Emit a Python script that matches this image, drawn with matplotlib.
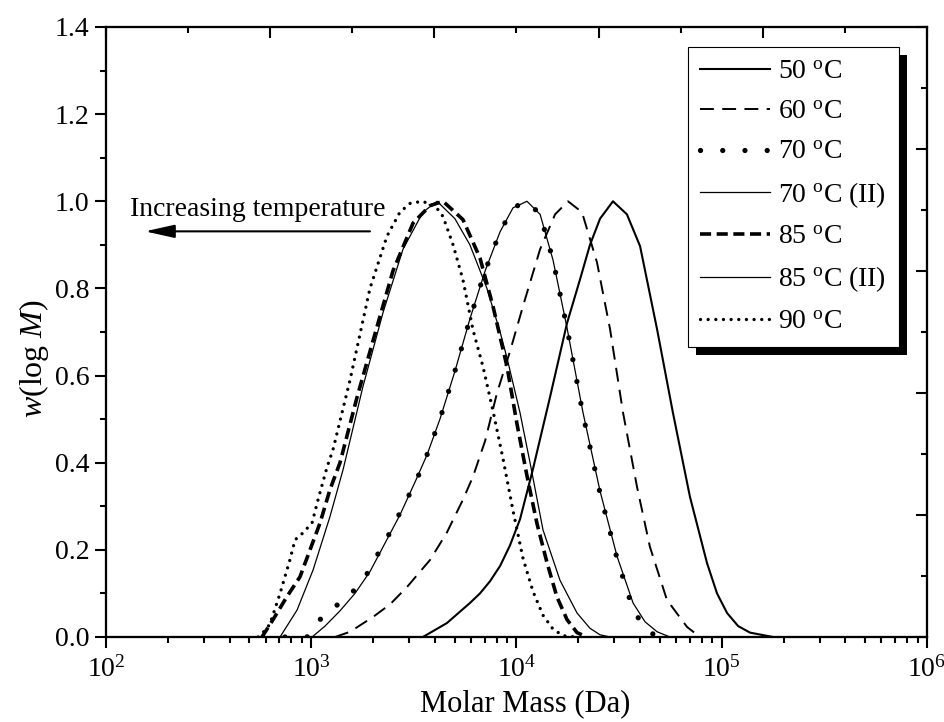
import matplotlib
matplotlib.use("Agg")
import matplotlib.pyplot as plt
from matplotlib.ticker import LogLocator, MultipleLocator, FormatStrFormatter, NullFormatter
from matplotlib.patches import Rectangle

plt.rcParams["font.family"] = "Liberation Serif"
plt.rcParams["mathtext.fontset"] = "custom"
plt.rcParams["mathtext.rm"] = "Liberation Serif"
plt.rcParams["mathtext.it"] = "Liberation Serif:italic"
plt.rcParams["lines.scale_dashes"] = False

# Molecular weight distributions: log10(M / Da) and normalised w(log M)
logM_50 = [3.544, 3.661, 3.773, 3.822, 3.871, 3.920, 3.968, 4.017, 4.080, 4.163,
           4.246, 4.309, 4.358, 4.407, 4.470, 4.538, 4.602, 4.685, 4.762, 4.845,
           4.928, 4.977, 5.026, 5.080, 5.138, 5.250]
w_50 = [0.0, 0.032, 0.078, 0.10, 0.128, 0.163, 0.21, 0.27, 0.385, 0.55,
        0.72, 0.82, 0.90, 0.96, 1.0, 0.97, 0.897, 0.706, 0.515, 0.322,
        0.17, 0.10, 0.055, 0.025, 0.01, 0.0]

logM_60 = [3.116, 3.189, 3.301, 3.384, 3.467, 3.579, 3.661, 3.739, 3.788, 3.847,
           3.905, 3.968, 4.032, 4.115, 4.188, 4.251, 4.319, 4.392, 4.456, 4.519,
           4.587, 4.650, 4.733, 4.831, 4.894]
w_60 = [0.0, 0.012, 0.046, 0.075, 0.115, 0.177, 0.24, 0.315, 0.368, 0.45,
        0.56, 0.655, 0.76, 0.89, 0.97, 1.0, 0.975, 0.86, 0.706, 0.515,
        0.345, 0.207, 0.085, 0.023, 0.0]

logM_70 = [2.872, 2.945, 2.979, 3.004, 3.043, 3.106, 3.155, 3.223, 3.286, 3.335,
           3.384, 3.432, 3.481, 3.520, 3.564, 3.627, 3.700, 3.773, 3.847, 3.920,
           3.983, 4.051, 4.115, 4.178, 4.246, 4.324, 4.407, 4.490, 4.553, 4.602,
           4.650, 4.699]
w_70 = [0.0, 0.0, 0.0, 0.01, 0.04, 0.07, 0.078, 0.115, 0.154, 0.20,
        0.24, 0.285, 0.33, 0.368, 0.418, 0.50, 0.61, 0.73, 0.84, 0.93,
        0.985, 1.0, 0.97, 0.865, 0.71, 0.51, 0.33, 0.18, 0.085, 0.035,
        0.01, 0.0]

logM_70b = [3.004, 3.067, 3.140, 3.213, 3.286, 3.359, 3.432, 3.505, 3.564, 3.627,
            3.700, 3.773, 3.847, 3.920, 3.983, 4.051, 4.115, 4.178, 4.246, 4.324,
            4.407, 4.490, 4.568, 4.626, 4.685, 4.748]
w_70b = [0.0, 0.025, 0.06, 0.10, 0.15, 0.215, 0.28, 0.355, 0.418, 0.50,
         0.61, 0.73, 0.84, 0.93, 0.985, 1.0, 0.97, 0.865, 0.71, 0.515,
         0.335, 0.185, 0.078, 0.035, 0.012, 0.0]

logM_85 = [2.760, 2.814, 2.882, 2.945, 2.994, 3.043, 3.091, 3.140, 3.223, 3.301,
           3.398, 3.496, 3.579, 3.642, 3.739, 3.822, 3.885, 3.954, 4.002, 4.051,
           4.100, 4.149, 4.197, 4.246, 4.295, 4.343]
w_85 = [0.0, 0.04, 0.093, 0.138, 0.20, 0.262, 0.338, 0.40, 0.55, 0.68,
        0.84, 0.95, 0.99, 1.0, 0.958, 0.87, 0.76, 0.62, 0.49, 0.37,
        0.26, 0.17, 0.092, 0.04, 0.01, 0.0]

logM_85b = [2.848, 2.931, 3.009, 3.091, 3.155, 3.252, 3.350, 3.447, 3.544, 3.613,
            3.700, 3.773, 3.856, 3.920, 3.954, 4.017, 4.066, 4.129, 4.212, 4.295,
            4.358, 4.407, 4.456]
w_85b = [0.0, 0.062, 0.154, 0.276, 0.384, 0.575, 0.745, 0.89, 0.975, 1.0,
         0.96, 0.90, 0.80, 0.70, 0.64, 0.515, 0.40, 0.246, 0.13, 0.055,
         0.02, 0.005, 0.0]

logM_90 = [2.741, 2.775, 2.799, 2.848, 2.896, 2.921, 2.960, 3.004, 3.033, 3.077,
           3.106, 3.189, 3.286, 3.369, 3.432, 3.481, 3.540, 3.603, 3.642, 3.691,
           3.739, 3.788, 3.837, 3.885, 3.934, 3.983, 4.032, 4.080, 4.129, 4.178,
           4.227, 4.285]
w_90 = [0.0, 0.015, 0.03, 0.10, 0.177, 0.223, 0.239, 0.262, 0.315, 0.39,
        0.43, 0.59, 0.80, 0.92, 0.975, 0.995, 1.0, 0.99, 0.965, 0.90,
        0.82, 0.705, 0.62, 0.52, 0.41, 0.29, 0.18, 0.105, 0.05, 0.018,
        0.003, 0.0]

labels = [r"50 $^{\mathrm{o}}$C", r"60 $^{\mathrm{o}}$C", r"70 $^{\mathrm{o}}$C",
          r"70 $^{\mathrm{o}}$C (II)", r"85 $^{\mathrm{o}}$C",
          r"85 $^{\mathrm{o}}$C (II)", r"90 $^{\mathrm{o}}$C"]
xs = [logM_50, logM_60, logM_70, logM_70b, logM_85, logM_85b, logM_90]
ys = [w_50, w_60, w_70, w_70b, w_85, w_85b, w_90]
styles = [
    dict(ls="-", lw=1.5),
    dict(ls=(0, (10, 6)), lw=1.4),
    dict(ls=(0, (0.01, 16)), lw=3.8, dash_capstyle="round"),
    dict(ls="-", lw=0.9),
    dict(ls=(0, (8, 4)), lw=2.6),
    dict(ls="-", lw=0.9),
    dict(ls=(0, (0.01, 5.5)), lw=2.4, dash_capstyle="round"),
]

fig = plt.figure(figsize=(9.45, 7.22), dpi=100)
ax = fig.add_axes([0.11217, 0.11773, 0.86878, 0.84488])

handles = []
for lx, w, lab, st in zip(xs, ys, labels, styles):
    m = [10 ** v for v in lx]
    h, = ax.plot(m, w, color="black", label=lab, **st)
    handles.append(h)

ax.set_xscale("log")
ax.set_xlim(1e2, 1e6)
ax.set_ylim(0, 1.4)
ax.xaxis.set_major_locator(LogLocator(base=10, numticks=10))
ax.xaxis.set_minor_locator(LogLocator(base=10, subs=range(2, 10), numticks=20))
ax.xaxis.set_minor_formatter(NullFormatter())
ax.yaxis.set_major_locator(MultipleLocator(0.2))
ax.yaxis.set_minor_locator(MultipleLocator(0.1))
ax.yaxis.set_major_formatter(FormatStrFormatter("%.1f"))
ax.tick_params(which="both", direction="out", top=False, right=False, width=1.5,
               labelsize=20)
ax.tick_params(which="major", length=8)
ax.tick_params(which="minor", length=4.5)
ax.tick_params(axis="y", which="major", pad=4)
ax.tick_params(axis="x", which="major", pad=6)
for sp in ax.spines.values():
    sp.set_linewidth(1.5)

ax.set_xlabel("Molar Mass (Da)", fontsize=22)
ax.set_ylabel(r"$w$(log $M$)", fontsize=23)
ax.xaxis.set_label_coords(0.510, -0.085)
ax.yaxis.set_label_coords(-0.067, 0.456)

# Linked top and right axes carrying inward ticks only
axt = ax.twiny()
axt.set_xlim(0, 5)
axt.xaxis.set_major_locator(MultipleLocator(1))
axt.xaxis.set_minor_locator(MultipleLocator(0.5))
axt.tick_params(axis="x", which="both", direction="in", top=True, bottom=False,
                labeltop=False, labelbottom=False, width=1.5)
axt.tick_params(axis="x", which="major", length=8)
axt.tick_params(axis="x", which="minor", length=4.5)

axr = ax.twinx()
axr.set_ylim(0, 5)
axr.yaxis.set_major_locator(MultipleLocator(1))
axr.yaxis.set_minor_locator(MultipleLocator(0.5))
axr.tick_params(axis="y", which="both", direction="in", right=True, left=False,
                labelright=False, labelleft=False, width=1.5)
axr.tick_params(axis="y", which="major", length=8)
axr.tick_params(axis="y", which="minor", length=4.5)
for a in (axt, axr):
    for sp in a.spines.values():
        sp.set_linewidth(1.5)

# Annotation for the trend with temperature
note_logM, note_w = 2.741, 0.982
arrow_from, arrow_to, arrow_w = 3.286, 2.19, 0.931
ax.text(10 ** note_logM, note_w, "Increasing temperature", ha="center",
        va="center", fontsize=20)
ax.annotate("", xy=(10 ** arrow_to, arrow_w), xytext=(10 ** arrow_from, arrow_w),
            arrowprops=dict(arrowstyle="-|>,head_length=0.9,head_width=0.2",
                            lw=1.5, color="black", mutation_scale=20,
                            shrinkA=0, shrinkB=0))

leg = fig.legend(handles, labels, loc="upper left",
                 bbox_to_anchor=(688 / 945, 1 - 47 / 722), fontsize=20,
                 frameon=True, fancybox=False, framealpha=1, edgecolor="black",
                 handlelength=2.5, handletextpad=0.3, labelspacing=0.53,
                 borderpad=0.45, borderaxespad=0)
leg.get_frame().set_linewidth(0.8)

fig.canvas.draw()
bb = leg.get_window_extent()
shadow = Rectangle((bb.x0 + 8, bb.y0 - 8), bb.width, bb.height, transform=None,
                   facecolor="black", edgecolor="none", zorder=4)
fig.add_artist(shadow)

fig.savefig("out.png", dpi=100)
